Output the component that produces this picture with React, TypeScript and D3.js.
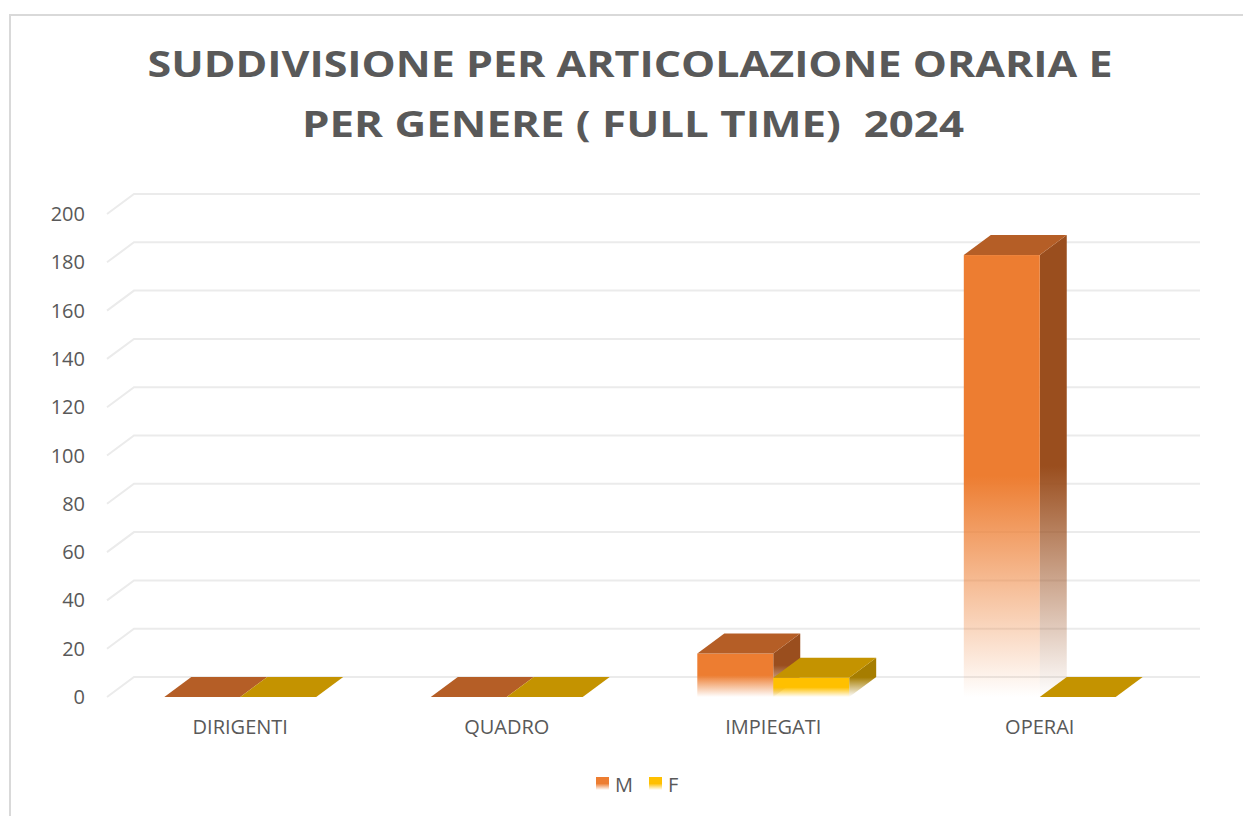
import React from "react";
import * as d3 from "d3";

const categories = ["DIRIGENTI", "QUADRO", "IMPIEGATI", "OPERAI"];
const seriesNames = ["M", "F"];
const valuesM = [0, 0, 18, 183];
const valuesF = [0, 0, 8, 0];
const yTicks = [0, 20, 40, 60, 80, 100, 120, 140, 160, 180, 200];
const titleLines = ["SUDDIVISIONE PER ARTICOLAZIONE ORARIA E", "PER GENERE ( FULL TIME) \u00a02024"];

const W = 1243;
const H = 816;
const depthX = 27;
const depthY = -20;
const font = "'Open Sans', 'Noto Sans', sans-serif";
const textColor = "#595959";

const colors = {
  M: { front: "#ED7D31", top: "#B55E26", side: "#9A4E1E" },
  F: { front: "#FFC000", top: "#C49300", side: "#A67D00" },
};

const App = () => {
  const x0 = d3.scaleBand<string>().domain(categories).range([107, 1173]).paddingInner(0.43).paddingOuter(0.215);
  const x1 = d3.scaleBand<string>().domain(seriesNames).range([0, x0.bandwidth()]);
  const y = d3.scaleLinear().domain([0, 200]).range([697, 214]);
  const [xl, xr] = x0.range();

  const data = categories.map((c, i) => ({ cat: c, M: valuesM[i], F: valuesF[i] }));

  const bar = (cat: string, s: "M" | "F", v: number) => {
    const bx = (x0(cat) as number) + (x1(s) as number);
    const bw = x1.bandwidth();
    const yt = y(v);
    const yb = y(0);
    const c = colors[s];
    const top = `M${bx},${yt} L${bx + bw},${yt} L${bx + bw + depthX},${yt + depthY} L${bx + depthX},${yt + depthY} Z`;
    if (v === 0) {
      return <path key={cat + s} d={top} fill={c.top} />;
    }
    const side = `M${bx + bw},${yt} L${bx + bw + depthX},${yt + depthY} L${bx + bw + depthX},${yb + depthY} L${bx + bw},${yb} Z`;
    return (
      <g key={cat + s}>
        <path d={side} fill={`url(#side${s})`} />
        <rect x={bx} y={yt} width={bw} height={yb - yt} fill={`url(#front${s})`} />
        <path d={top} fill={c.top} />
      </g>
    );
  };

  const grad = (id: string, color: string) => (
    <linearGradient id={id} x1="0" y1="0" x2="0" y2="1">
      <stop offset="0" stopColor={color} stopOpacity={1} />
      <stop offset="0.5" stopColor={color} stopOpacity={1} />
      <stop offset="1" stopColor={color} stopOpacity={0} />
    </linearGradient>
  );

  return (
    <svg width={W} height={H} style={{ position: "absolute", left: 0, top: 0, background: "#fff" }}>
      <defs>
        {grad("frontM", colors.M.front)}
        {grad("sideM", colors.M.side)}
        {grad("frontF", colors.F.front)}
        {grad("sideF", colors.F.side)}
        {grad("legM", colors.M.front)}
        {grad("legF", colors.F.front)}
      </defs>
      <rect x={10} y={15} width={W + 20} height={H + 20} fill="#fff" stroke="#d9d9d9" strokeWidth={2} />

      {titleLines.map((t, i) => (
        <text
          key={i}
          x={i === 0 ? 630 : 633}
          y={77 + i * 60}
          textAnchor="middle"
          fontFamily={font}
          fontWeight={700}
          fontSize={36}
          fill={textColor}
          textLength={i === 0 ? 965 : 662}
          lengthAdjust="spacingAndGlyphs"
        >
          {t}
        </text>
      ))}

      {yTicks.map((t) => (
        <g key={t}>
          <path
            d={`M${xl},${y(t)} L${xl + depthX},${y(t) + depthY} L${xr + depthX},${y(t) + depthY}`}
            fill="none"
            stroke="#ebebeb"
            strokeWidth={2}
          />
          <text x={85} y={y(t)} dy="0.35em" textAnchor="end" fontFamily={font} fontSize={20} fill={textColor}>
            {t}
          </text>
        </g>
      ))}

      {data.map((d) => (
        <g key={d.cat}>
          {bar(d.cat, "M", d.M)}
          {bar(d.cat, "F", d.F)}
        </g>
      ))}

      {categories.map((c) => (
        <text
          key={c}
          x={(x0(c) as number) + x0.bandwidth() / 2}
          y={734}
          textAnchor="middle"
          fontFamily={font}
          fontSize={20}
          fill={textColor}
        >
          {c}
        </text>
      ))}

      <g>
        <rect x={596} y={777} width={13} height={13} fill="url(#legM)" />
        <text x={615} y={792} fontFamily={font} fontSize={20} fill={textColor}>M</text>
        <rect x={649} y={777} width={13} height={13} fill="url(#legF)" />
        <text x={668} y={792} fontFamily={font} fontSize={20} fill={textColor}>F</text>
      </g>
    </svg>
  );
};

export default App;
